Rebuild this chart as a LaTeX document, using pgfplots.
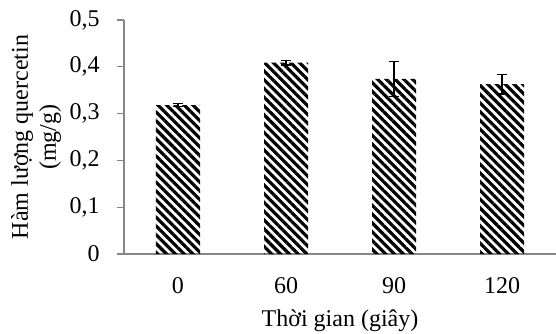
\documentclass[border=0pt]{standalone}
\usepackage{fontspec}
\setmainfont{Liberation Serif}
\usepackage{pgfplots}
\pgfplotsset{compat=1.18}
\usetikzlibrary{patterns.meta}
\definecolor{axgray}{RGB}{134,134,134}
\begin{document}
\fontsize{12}{14}\selectfont
\begin{tikzpicture}
\useasboundingbox (-62pt,-39.5pt) rectangle (216pt,127pt);
\begin{axis}[
  at={(0,0)}, anchor=south west,
  scale only axis, width=216pt, height=117pt,
  xmin=-0.5, xmax=3.5, ymin=0, ymax=0.5,
  axis x line*=bottom, axis y line*=left,
  xtick={0,1,2,3}, xticklabels={0,60,90,120},
  ytick={0,0.1,0.2,0.3,0.4,0.5},
  tick align=outside, major tick length=3.5pt,
  xtick style={draw=none},
  ytick style={draw=axgray, line width=0.6pt},
  axis line style={draw=axgray, line width=0.8pt},
  /pgf/number format/.cd, assume math mode=true, use comma, fixed, precision=1, /pgfplots/.cd,
  yticklabel style={xshift=-4.5pt},
  xticklabel style={anchor=base, yshift=-16pt},
  ylabel={Hàm lượng quercetin\\(mg/g)},
  ylabel style={at={(axis description cs:-0.2037,0.5)}, anchor=center, align=center},
  xlabel={Thời gian (giây)},
  xlabel style={at={(axis description cs:0.5,-0.3077)}, anchor=base},
  ybar, bar width=22pt, bar shift=0pt,
]
\addplot[draw=none, pattern={Lines[angle=-45, distance=3.1pt, line width=1.6pt]}, pattern color=black,
  error bars/.cd, y dir=both, y explicit,
  error bar style={black, line width=0.6pt},
  error mark options={rotate=90, mark size=2.5pt, black, line width=0.6pt}]
  coordinates {
    (0,0.318) +- (0,0.003)
    (1,0.409) +- (0,0.005)
    (2,0.374) +- (0,0.037)
    (3,0.363) +- (0,0.021)
  };
\end{axis}
\end{tikzpicture}
\end{document}
